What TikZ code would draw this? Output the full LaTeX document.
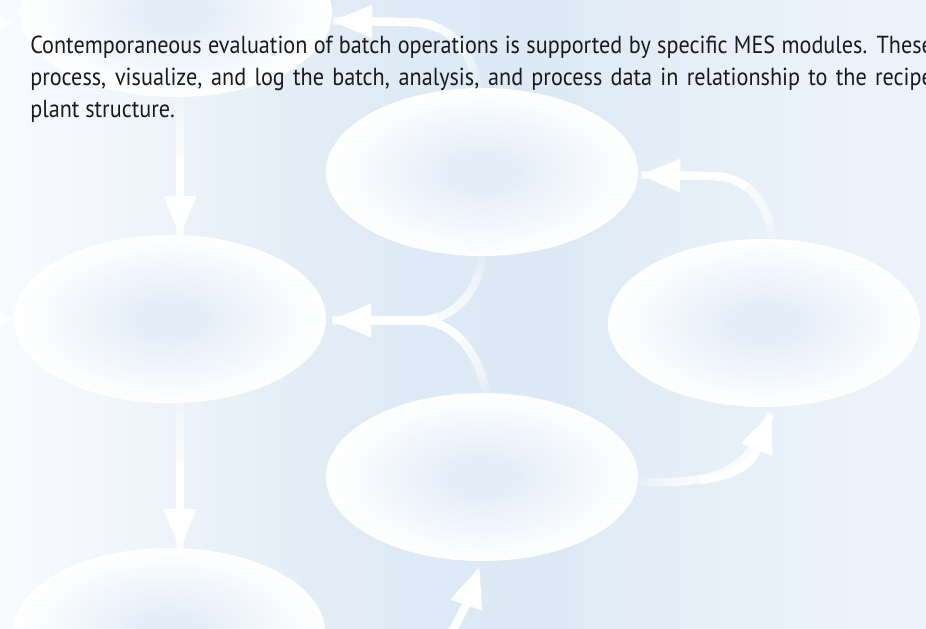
\documentclass[tikz,border=0pt]{standalone}
\usepackage{fontspec}
\setmainfont{PT Sans}[FakeStretch=0.9]
\usetikzlibrary{shapes.geometric,arrows.meta,calc}

\definecolor{eggin}{HTML}{E5EEF8}
\definecolor{ink}{HTML}{1A1A1A}
\definecolor{bgA}{HTML}{F8FBFE}
\definecolor{bgB}{HTML}{F3F7FC}
\definecolor{bgC}{HTML}{E8F0F8}
\definecolor{bgD}{HTML}{DEEAF5}
\definecolor{bgE}{HTML}{DDEAF5}
\definecolor{bgF}{HTML}{E6EFF8}
\definecolor{bgG}{HTML}{EDF3FB}

% backdrop: pale at the left, deepest blue in the middle, lighter at the right
% (the part from 25bp to 75bp spans the filled rectangle)
\pgfdeclarehorizontalshading{backdrop}{100bp}{%
  color(0bp)=(bgA); color(25bp)=(bgA); color(30.4bp)=(bgB); color(37.4bp)=(bgC);
  color(46.6bp)=(bgD); color(55.2bp)=(bgE); color(62.8bp)=(bgF);
  color(75bp)=(bgG); color(100bp)=(bgG)}

% soft radial fill of the ellipses: tinted centre, white rim
\pgfdeclareradialshading{eggshade}{\pgfpoint{0bp}{0bp}}{%
  color(0bp)=(eggin); color(6bp)=(eggin); color(16bp)=(eggin!45!white);
  color(25bp)=(white); color(50bp)=(white)}

\tikzset{
  egg/.style={ellipse, minimum width=234pt, minimum height=126pt, inner sep=0pt, shading=eggshade},
  wire/.style={draw=white, line width=6.2pt},
  arrowhd/.style={-{Triangle[width=25pt,length=30pt,line width=1pt,round]}},
  blurb/.style={anchor=base west, inner sep=0pt, text=ink, font=\fontsize{18.5}{24}\selectfont}
}

% a white connector that fades in over its first #1 pt
\newcommand\fadewire[3]{%
  \foreach \k in {0,...,7}{%
    \pgfmathsetlengthmacro\gap{#1pt*\k/8}%
    \draw[wire, draw opacity=0.2, dash pattern=on 3000pt off \gap, dash phase=3000pt] #3;%
  }%
  \draw[wire, #2, dash pattern=on 3000pt off #1pt, dash phase=3000pt] #3;%
}

\begin{document}
\begin{tikzpicture}[x=0.75pt, y=-0.75pt]
\useasboundingbox (0,0) rectangle (926,629);
\clip (0,0) rectangle (926,629);

\shade[shading=backdrop] (0,0) rectangle (926,629);

% ellipses
\node[egg] (tl) at (176,13)  {};
\node[egg] (tm) at (482,172) {};
\node[egg] (ml) at (170,319) {};
\node[egg] (r)  at (764,323) {};
\node[egg] (bm) at (482,477) {};
\node[egg] (bl) at (169,632) {};

% free ends of connectors entering from outside
\coordinate (lin1) at (-70,23);
\coordinate (lin2) at (-70,319);
\coordinate (gin)  at (436,660);

% connectors
\fadewire{45}{arrowhd}{([xshift=3pt]tl.south) -- ([xshift=7.5pt]ml.north)}
\fadewire{45}{arrowhd}{([xshift=7.5pt]ml.south) -- ([xshift=8.25pt]bl.north)}
\fadewire{55}{arrowhd}{([xshift=-3pt]tm.north) .. controls (468,40) and (445,22) .. (405,22) -- ($(tl.east)+(1,8)$)}
\fadewire{45}{arrowhd}{([xshift=6.75pt]r.north) .. controls (766,200) and (748,176) .. (710,176) -- ($(tm.east)+(3,3)$)}
\fadewire{60}{arrowhd}{(tm.south) .. controls (478,292) and (455,320) .. (418,320.5) -- ($(ml.east)+(6,1.5)$)}
\fadewire{45}{arrowhd}{([xshift=3pt]bm.north) .. controls (478,352) and (455,321) .. (418,320.5) -- ($(ml.east)+(6,1.5)$)}
\fadewire{45}{arrowhd}{($(bm.east)+(2,5)$) .. controls (720,484) and (748,472) .. ($(r.south)+(7,6)$)}
\draw[wire, arrowhd] (gin) .. controls (455,628) and (468,600) .. ($(bm.south)+(-3,7)$);
\draw[wire, arrowhd] (lin1) -- ($(tl.west)+(-7,10)$);
\draw[wire, arrowhd] (lin2) -- ($(ml.west)+(-1,0)$);

% caption text
\node[blurb] (t1) at (30,53)  {\makebox[677pt][s]{Contemporaneous evaluation of batch operations is supported by specific MES modules. These}};
\node[blurb] (t2) at (30,85)  {\makebox[677pt][s]{process, visualize, and log the batch, analysis, and process data in relationship to the recipe}};
\node[blurb] (t3) at (30,117) {plant structure.};
\end{tikzpicture}
\end{document}
